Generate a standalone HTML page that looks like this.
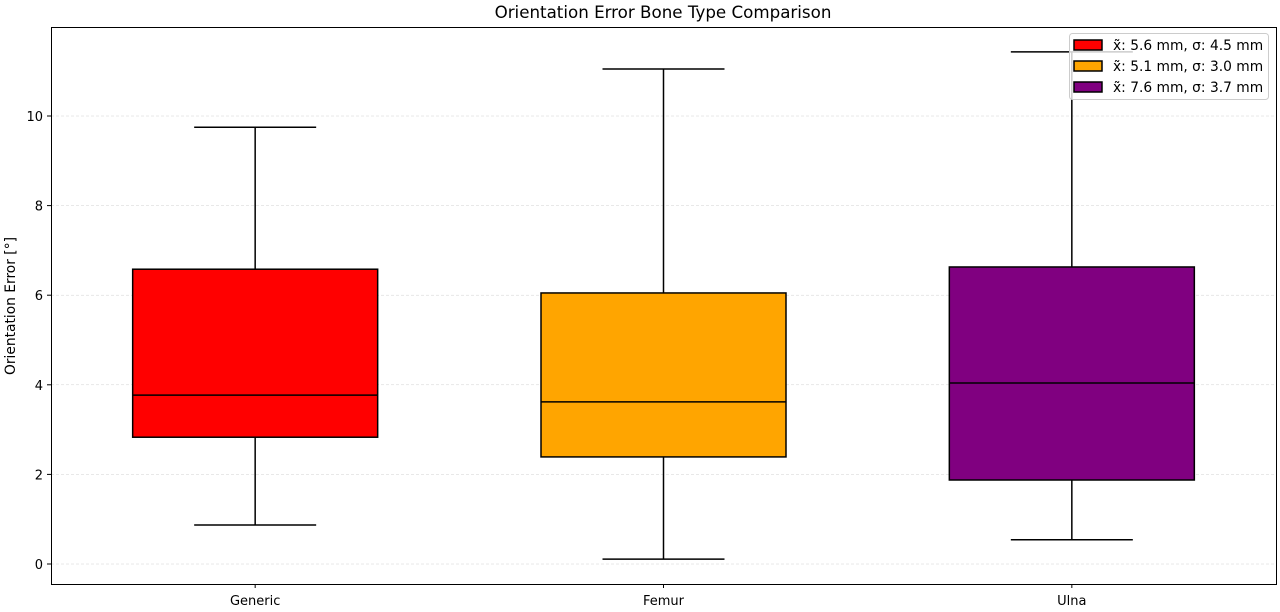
<!DOCTYPE html>
<html><head><meta charset="utf-8"><style>
body{margin:0;background:#fff;}
svg{display:block;font-family:"DejaVu Sans","Liberation Sans",sans-serif;}
</style></head><body>
<svg id="chart" width="1280" height="612">
<rect x="0" y="0" width="1280" height="612" fill="#fff"/>
<text x="663" y="18" text-anchor="middle" font-size="16.7">Orientation Error Bone Type Comparison</text>
<g id="grid"></g>
<g id="boxes"></g>
<rect x="51.5" y="27.5" width="1225" height="557" fill="none" stroke="#000" stroke-width="1"/>
<g id="axes"></g>
<text transform="translate(15,306) rotate(-90)" text-anchor="middle" font-size="13.8">Orientation Error [°]</text>
<g id="legend"></g>
</svg>
<script>
const categories=["Generic","Femur","Ulna"];
const colors=["#ff0000","#ffa500","#800080"];
const whiskLow=[0.87,0.11,0.54];
const q1=[2.83,2.39,1.875];
const medians=[3.77,3.62,4.04];
const q3=[6.58,6.05,6.63];
const whiskHigh=[9.75,11.05,11.43];
const yTicks=[0,2,4,6,8,10];
const legendLabels=["x̃: 5.6 mm, σ: 4.5 mm","x̃: 5.1 mm, σ: 3.0 mm","x̃: 7.6 mm, σ: 3.7 mm"];
const NS="http://www.w3.org/2000/svg";
const L=51,R=1276,T=27,B=584;
const y=v=>564-v*44.8;
const x=i=>L+(i+0.5)*(R-L)/categories.length;
function mk(tag,attrs,parent){const e=document.createElementNS(NS,tag);for(const k in attrs)e.setAttribute(k,attrs[k]);parent.appendChild(e);return e;}
const grid=document.getElementById('grid'),axes=document.getElementById('axes'),boxes=document.getElementById('boxes'),leg=document.getElementById('legend');
yTicks.forEach(t=>{
 const g=mk('line',{x1:L,x2:R,y1:y(t),y2:y(t),stroke:'#d0d0d0','stroke-width':0.5,'stroke-dasharray':'3,2'},grid);
 
 
 const tk=mk('line',{x1:L-4,x2:L,y1:y(t),y2:y(t),stroke:'#000'},axes);
 
 
 const tx=mk('text',{x:L-8,y:y(t)+5,'text-anchor':'end','font-size':13},axes);
 tx.textContent=t;
 
 
});
const bw=245,cw=122;
categories.forEach((c,i)=>{
 const cx=x(i);
 const g=mk('g',{},boxes);
 
 
 mk('line',{x1:cx,x2:cx,y1:y(whiskLow[i]),y2:y(q1[i]),stroke:'#000','stroke-width':1.5},g);
 mk('line',{x1:cx,x2:cx,y1:y(q3[i]),y2:y(whiskHigh[i]),stroke:'#000','stroke-width':1.5},g);
 mk('line',{x1:cx-cw/2,x2:cx+cw/2,y1:y(whiskLow[i]),y2:y(whiskLow[i]),stroke:'#000','stroke-width':1.5},g);
 mk('line',{x1:cx-cw/2,x2:cx+cw/2,y1:y(whiskHigh[i]),y2:y(whiskHigh[i]),stroke:'#000','stroke-width':1.5},g);
 mk('rect',{x:cx-bw/2,y:y(q3[i]),width:bw,height:y(q1[i])-y(q3[i]),fill:colors[i],stroke:'#000','stroke-width':1.5},g);
 mk('line',{x1:cx-bw/2,x2:cx+bw/2,y1:y(medians[i]),y2:y(medians[i]),stroke:'#000','stroke-width':1.5},g);
 const tk=mk('line',{x1:cx,x2:cx,y1:B,y2:B+4,stroke:'#000'},axes);
 
 
 const tx=mk('text',{x:cx,y:B+21,'text-anchor':'middle','font-size':13},axes);
 tx.textContent=c;
 
 
});
mk('rect',{x:1069.5,y:33.5,width:199,height:66,rx:3,fill:'#fff','fill-opacity':0.8,stroke:'#ccc'},leg);
legendLabels.forEach((lb,i)=>{
 const ry=45+i*21;
 const p=mk('rect',{x:1074,y:ry-5,width:28,height:10,fill:colors[i],stroke:'#000','stroke-width':1.5},leg);
 
 
 const t=mk('text',{x:1113,y:ry+5,'font-size':13.8},leg);
 t.textContent=lb;
 
 
});
</script>
</body></html>
